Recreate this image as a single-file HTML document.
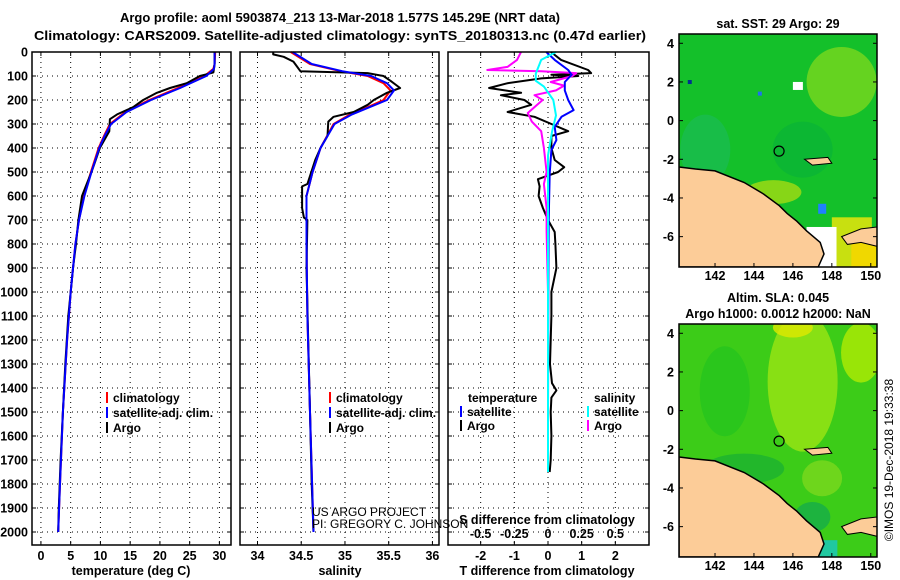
<!DOCTYPE html>
<html><head><meta charset="utf-8"><style>
html,body{margin:0;padding:0;background:#fff}
svg{display:block;font-family:"Liberation Sans",sans-serif}
.t{font-weight:bold;font-size:13px;fill:#000}
.tk{font-weight:bold;font-size:12.5px;fill:#000}
.grid{stroke:#000;stroke-width:1;stroke-dasharray:1 4}
</style></head><body>
<svg id="fig" width="900" height="580" viewBox="0 0 900 580" xmlns="http://www.w3.org/2000/svg">
<rect width="900" height="580" fill="#fff"/>
<text class="t" x="340" y="22" text-anchor="middle">Argo profile: aoml 5903874_213 13-Mar-2018 1.577S 145.29E (NRT data)</text>
<text class="t" x="340" y="40" text-anchor="middle" textLength="612" lengthAdjust="spacingAndGlyphs">Climatology: CARS2009. Satellite-adjusted climatology: synTS_20180313.nc (0.47d earlier)</text>
<g id="panels"></g>
<g id="maps"></g>
<text x="893" y="460" font-size="12" text-anchor="middle" transform="rotate(-90 893 460)">©IMOS 19-Dec-2018 19:33:38</text>
</svg>
<script>
const NS="http://www.w3.org/2000/svg";
const fig=document.getElementById('fig');
function mk(tag,attrs,parent){const e=document.createElementNS(NS,tag);for(const k in attrs)e.setAttribute(k,attrs[k]);(parent||fig).appendChild(e);return e;}

// ---------- data ----------
const depthTicks=[0,100,200,300,400,500,600,700,800,900,1000,1100,1200,1300,1400,1500,1600,1700,1800,1900,2000];
const tempTicks=[0,5,10,15,20,25,30];
const salTicks=[34,34.5,35,35.5,36];
const tdiffTicks=[-2,-1,0,1,2];
const sdiffTicks=[-0.5,-0.25,0,0.25,0.5];

const argoTempDepth=[0,50,85,92,100,130,150,170,200,230,260,280,330,400,450,500,550,600,700,800,900,1000,1100,1300,1500,1700,1900,2000];
const argoTemp=[29.2,29.2,29.0,28.0,26.7,24.5,21.7,19.5,17.2,15.5,12.8,11.6,11.5,9.9,9.2,8.5,7.7,6.9,6.3,5.9,5.4,5.0,4.6,4.1,3.7,3.3,3.0,2.9];
const climTempDepth=[0,50,70,100,150,200,250,300,350,400,500,600,700,800,1000,1200,1500,1800,2000];
const climTemp=[29.3,29.2,29.0,27.5,23.0,18.2,14.2,11.6,10.6,9.7,8.4,7.2,6.4,5.8,5.0,4.4,3.7,3.2,2.9];
const satTemp=[29.2,29.2,29.1,27.8,23.4,18.5,14.4,11.8,10.7,9.8,8.5,7.3,6.4,5.8,5.0,4.4,3.7,3.2,2.9];

const argoSalDepth=[0,10,20,40,60,80,88,100,120,150,170,200,220,250,270,290,350,400,450,550,560,650,690,700,900,1200,1500,1800,2000];
const argoSal=[34.18,34.18,34.3,34.41,34.45,34.49,35.26,35.44,35.52,35.63,35.48,35.33,35.26,35.1,34.87,34.81,34.8,34.72,34.66,34.57,34.51,34.51,34.53,34.57,34.56,34.58,34.6,34.62,34.64];
const climSalDepth=[0,50,80,100,130,160,200,230,260,300,400,500,600,800,1100,1500,2000];
const climSal=[34.38,34.6,34.95,35.26,35.44,35.52,35.44,35.26,35.06,34.87,34.72,34.63,34.56,34.56,34.57,34.6,34.64];
const satSal=[34.4,34.62,34.97,35.3,35.48,35.56,35.48,35.28,35.08,34.88,34.72,34.63,34.56,34.56,34.57,34.6,34.64];

const tdiffDepth=[0,33,75,88,95,100,110,130,150,170,180,200,220,250,270,300,330,350,400,450,480,500,530,560,600,650,700,750,800,900,1000,1100,1200,1300,1380,1410,1440,1500,1600,1700,1750];
const argoTdiff=[0.09,0.39,1.19,1.28,0.1,0.9,-0.2,-1.2,-1.75,-0.8,-1.4,-0.7,-0.5,-1.2,-0.4,0.1,0.6,0.1,0.1,0.2,0.48,0.3,-0.3,-0.25,-0.28,-0.15,0,0.2,0.22,0.25,0.1,0.1,0.08,0.06,0.12,0.25,0.1,0.08,0.1,0.08,0.05];
const satTdiffDepth=[0,33,75,95,125,160,200,242,270,312,367,408,506,700,1000,1500,1750];
const satTdiff=[-0.05,0.2,0.6,0.7,0.5,0.5,0.6,0.76,0.4,0.2,0.25,0.1,0.05,0.02,0.01,0.0,0.0];
const sdiffDepth=[0,33,62,75,80,88,100,125,140,160,180,200,254,290,330,400,500,550,650,750,1000,1300,1600,1750];
const argoSdiff=[-0.2,-0.23,-0.3,-0.45,-0.05,0.21,0.18,0.02,0.12,0.06,-0.1,-0.04,-0.15,-0.12,-0.05,-0.03,-0.01,-0.03,-0.01,-0.01,0.0,0.0,0.0,0.0];
const satSdiffDepth=[0,33,90,120,144,200,264,333,431,600,1000,1500,1750];
const satSdiff=[0.06,-0.05,-0.09,-0.09,-0.03,0.04,0.06,0.03,0.0,0.0,0.0,0.0,0.0];

// ---------- axes ----------
const yTop=52,yBot=545;
const y=d=>yTop+d*0.24;
const P1={x0:32,x1:231,lo:-1.5,hi:31.95};
const P2={x0:240,x1:439,lo:33.8,hi:36.075};
const P3={x0:448,x1:649,lo:-2.97,hi:3.0};
const S3={lo:-0.742,hi:0.75};
const sx=(p,v)=>p.x0+(v-p.lo)/(p.hi-p.lo)*(p.x1-p.x0);
const sxS=v=>P3.x0+(v-S3.lo)/(S3.hi-S3.lo)*(P3.x1-P3.x0);

const panels=document.getElementById('panels');
function frame(p,name){
  const g=mk('g',{},panels);
  
  
  depthTicks.forEach(d=>{ if(d>0){const l=mk('line',{x1:p.x0,x2:p.x1,y1:y(d),y2:y(d),class:'grid'},g);
    }
    mk('line',{x1:p.x0,x2:p.x0+4,y1:y(d),y2:y(d),stroke:'#000'},g);mk('line',{x1:p.x1-4,x2:p.x1,y1:y(d),y2:y(d),stroke:'#000'},g);});
  return g;
}
function vgrid(g,p,ticks,fx){ticks.forEach(v=>{const X=fx(v);
  const l=mk('line',{x1:X,x2:X,y1:yTop,y2:yBot,class:'grid'},g);
  
  mk('line',{x1:X,x2:X,y1:yBot-4,y2:yBot,stroke:'#000'},g);mk('line',{x1:X,x2:X,y1:yTop,y2:yTop+4,stroke:'#000'},g);});}
function border(g,p){const r=mk('rect',{x:p.x0,y:yTop,width:p.x1-p.x0,height:yBot-yTop,fill:'none',stroke:'#000','stroke-width':1.5},g);
  }
function line(g,ds,vs,fx,color,name,w){
  const pts=ds.map((d,i)=>fx(vs[i]).toFixed(1)+','+y(d).toFixed(1)).join(' ');
  const pl=mk('polyline',{points:pts,fill:'none',stroke:color,'stroke-width':w||2,'stroke-linejoin':'round'},g);
  
}
function txt(g,x,yy,s,cls,anchor,name){const t=mk('text',{x:x,y:yy,class:cls,'text-anchor':anchor||'middle'},g);t.textContent=s;
  return t;}
function legend(g,x,yy,color,label){mk('line',{x1:x,x2:x,y1:yy-10,y2:yy+1,stroke:color,'stroke-width':2},g);
  const t=txt(g,x+6,yy,label,'t','start','legend-entry');t.style.fontSize='12px';}

// panel 1
let g=frame(P1,'temperature-panel');
vgrid(g,P1,tempTicks,v=>sx(P1,v));
depthTicks.forEach(d=>txt(g,28,y(d)+4.5,String(d),'tk','end','depth-tick-label'));
tempTicks.forEach(v=>txt(g,sx(P1,v),560,String(v),'tk','middle','temperature-tick-label'));
txt(g,131,575,'temperature (deg C)','t','middle','x-axis-title-temperature').style.fontSize='12.5px';
line(g,climTempDepth,climTemp,v=>sx(P1,v),'#f00','temp-climatology-line');
line(g,argoTempDepth,argoTemp,v=>sx(P1,v),'#000','temp-argo-line');
line(g,climTempDepth,satTemp,v=>sx(P1,v),'#00f','temp-satellite-line');
border(g,P1);
legend(g,107,402,'#f00','climatology');legend(g,107,417,'#00f','satellite-adj. clim.');legend(g,107,432,'#000','Argo');

// panel 2
g=frame(P2,'salinity-panel');
vgrid(g,P2,salTicks,v=>sx(P2,v));
salTicks.forEach(v=>txt(g,sx(P2,v),560,String(v),'tk','middle','salinity-tick-label'));
txt(g,340,575,'salinity','t','middle','x-axis-title-salinity').style.fontSize='12.5px';
line(g,climSalDepth,climSal,v=>sx(P2,v),'#f00','sal-climatology-line');
line(g,argoSalDepth,argoSal,v=>sx(P2,v),'#000','sal-argo-line');
line(g,climSalDepth,satSal,v=>sx(P2,v),'#00f','sal-satellite-line');
border(g,P2);
legend(g,330,402,'#f00','climatology');legend(g,330,417,'#00f','satellite-adj. clim.');legend(g,330,432,'#000','Argo');
let c1=txt(g,312,516,'US ARGO PROJECT','t','start','credit-project');c1.style.fontWeight='normal';c1.style.fontSize='12px';
let c2=txt(g,312,528,'PI: GREGORY C. JOHNSON','t','start','credit-pi');c2.style.fontWeight='normal';c2.style.fontSize='12px';

// panel 3
g=frame(P3,'difference-panel');
vgrid(g,P3,tdiffTicks,v=>sx(P3,v));
tdiffTicks.forEach(v=>txt(g,sx(P3,v),560,String(v),'tk','middle','tdiff-tick-label'));
txt(g,547,575,'T difference from climatology','t','middle','x-axis-title-tdiff').style.fontSize='12.5px';
line(g,tdiffDepth,argoTdiff,v=>sx(P3,v),'#000','tdiff-argo-line');
line(g,sdiffDepth,argoSdiff,sxS,'#f0f','sdiff-argo-line');
line(g,satTdiffDepth,satTdiff,v=>sx(P3,v),'#00f','tdiff-satellite-line');
line(g,satSdiffDepth,satSdiff,sxS,'#0ff','sdiff-satellite-line');
border(g,P3);
sdiffTicks.forEach(v=>txt(g,sxS(v),538,String(v),'tk','middle','sdiff-tick-label'));
txt(g,547,524,'S difference from climatology','t','middle','sdiff-axis-title').style.fontSize='12.5px';
txt(g,468,402,'temperature','t','start','legend-title-temperature').style.fontSize='12px';
legend(g,461,416,'#00f','satellite');legend(g,461,430,'#000','Argo');
txt(g,594,402,'salinity','t','start','legend-title-salinity').style.fontSize='12px';
legend(g,588,416,'#0ff','satellite');legend(g,588,430,'#f0f','Argo');

// ---------- maps ----------
const latTicks=[4,2,0,-2,-4,-6];
const lonTicks=[142,144,146,148,150];
const MX0=679,MX1=877,MH=233,lonLo=140.15,lonHi=150.32,latHi=4.48,latLo=-7.57;
const mx=lon=>MX0+(lon-lonLo)/(lonHi-lonLo)*(MX1-MX0);
const my=(lat,top)=>top+(latHi-lat)/(latHi-latLo)*MH;
const coast=[[140.15,-2.4],[141.0,-2.5],[142.0,-2.6],[143.5,-3.2],[144.5,-3.8],[145.3,-4.4],[145.7,-4.8],[146.2,-5.2],[146.7,-5.7],[147.4,-6.3],[147.6,-6.9],[147.3,-7.57],[140.15,-7.57]];
const newBritain=[[148.5,-6.0],[149.5,-5.6],[150.32,-5.5],[150.32,-6.5],[149.5,-6.3],[148.8,-6.4]];
const island=[[146.6,-2.0],[147.8,-1.9],[148.0,-2.2],[147.0,-2.3]];
const floatPos=[145.29,-1.577];
const mapsG=document.getElementById('maps');
function drawMap(top,name,title,kind){
  const g=mk('g',{},mapsG);
  
  const cid='clip'+top;
  const cp=mk('clipPath',{id:cid},g);mk('rect',{x:MX0,y:top,width:MX1-MX0,height:MH},cp);
  const inner=mk('g',{'clip-path':'url(#'+cid+')'},g);
  if(kind==='sst'){
    mk('rect',{x:MX0,y:top,width:MX1-MX0,height:MH,fill:'#14c02a'},inner);
    mk('ellipse',{cx:mx(141.5),cy:my(-1.5,top),rx:25,ry:35,fill:'#20b880',opacity:0.35},inner);
    mk('ellipse',{cx:mx(148.5),cy:my(2,top),rx:35,ry:35,fill:'#9be01a',opacity:0.6},inner);
    mk('ellipse',{cx:mx(145),cy:my(-3.7,top),rx:28,ry:12,fill:'#b8e010',opacity:0.7},inner);
    mk('ellipse',{cx:mx(146.5),cy:my(-1.5,top),rx:30,ry:28,fill:'#00aa40',opacity:0.4},inner);
    mk('rect',{x:mx(148),y:my(-5,top),width:40,height:60,fill:'#c8e010'},inner);
    mk('rect',{x:mx(149),y:my(-6.2,top),width:25,height:30,fill:'#f0d800'},inner);
    mk('rect',{x:mx(146.0),y:my(2.0,top),width:10,height:8,fill:'#fff'},inner);
    mk('rect',{x:mx(147.3),y:my(-4.3,top),width:8,height:10,fill:'#2080ff'},inner);
    mk('rect',{x:mx(140.6),y:my(2.1,top),width:4,height:4,fill:'#003090'},inner);
    mk('rect',{x:mx(144.2),y:my(1.5,top),width:4,height:4,fill:'#2070f0'},inner);
    mk('rect',{x:mx(146.7),y:my(-5.5,top),width:30,height:40,fill:'#fff'},inner);
  } else {
    mk('rect',{x:MX0,y:top,width:MX1-MX0,height:MH,fill:'#3ccc18'},inner);
    mk('ellipse',{cx:mx(146.5),cy:my(1.5,top),rx:35,ry:70,fill:'#a8e812',opacity:0.7},inner);
    mk('ellipse',{cx:mx(146),cy:my(4.3,top),rx:20,ry:10,fill:'#e0e800',opacity:0.8},inner);
    mk('ellipse',{cx:mx(149.5),cy:my(3,top),rx:20,ry:30,fill:'#c0f000',opacity:0.7},inner);
    mk('ellipse',{cx:mx(142.5),cy:my(1,top),rx:25,ry:45,fill:'#18c020',opacity:0.5},inner);
    mk('ellipse',{cx:mx(143.5),cy:my(-3,top),rx:40,ry:15,fill:'#10a838',opacity:0.6},inner);
    mk('ellipse',{cx:mx(147),cy:my(-5.5,top),rx:18,ry:15,fill:'#10a850',opacity:0.7},inner);
    mk('ellipse',{cx:mx(147.5),cy:my(-3.5,top),rx:20,ry:18,fill:'#a0e020',opacity:0.5},inner);
    mk('rect',{x:mx(147),y:my(-6.7,top),width:25,height:18,fill:'#20c8a0'},inner);
  }
  const toPts=arr=>arr.map(p=>mx(p[0]).toFixed(1)+','+my(p[1],top).toFixed(1)).join(' ');
  let l=mk('polygon',{points:toPts(coast),fill:'#fccc98',stroke:'#000','stroke-width':1.5},inner);
  
  l=mk('polygon',{points:toPts(newBritain),fill:'#fccc98',stroke:'#000','stroke-width':1},inner);
  
  l=mk('polygon',{points:toPts(island),fill:'#fccc98',stroke:'#000','stroke-width':1},inner);
  
  const c=mk('circle',{cx:mx(floatPos[0]),cy:my(floatPos[1],top),r:5,fill:'none',stroke:'#000','stroke-width':1.2},g);
  
  mk('rect',{x:MX0,y:top,width:MX1-MX0,height:MH,fill:'none',stroke:'#000','stroke-width':1.5},g);
  latTicks.forEach(v=>{mk('line',{x1:MX0,x2:MX0+4,y1:my(v,top),y2:my(v,top),stroke:'#000'},g);mk('line',{x1:MX1-4,x2:MX1,y1:my(v,top),y2:my(v,top),stroke:'#000'},g);
    txt(g,674,my(v,top)+4.5,String(v),'tk','end','latitude-tick-label');});
  lonTicks.forEach(v=>{mk('line',{x1:mx(v),x2:mx(v),y1:top+MH-4,y2:top+MH,stroke:'#000'},g);
    txt(g,mx(v),top+MH+13,String(v),'tk','middle','longitude-tick-label');});
  title.forEach((s,i)=>txt(g,778,top-(title.length-1-i)*16-6,s,'t','middle','map-title').style.fontSize='12.5px');
}
drawMap(34,'sst-map',['sat. SST: 29 Argo: 29'],'sst');
drawMap(324,'sla-map',['Altim. SLA: 0.045','Argo h1000: 0.0012 h2000: NaN'],'sla');
</script>
</body></html>
